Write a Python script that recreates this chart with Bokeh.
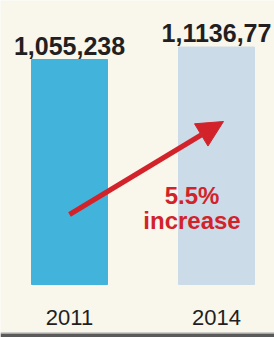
from bokeh.plotting import figure
from bokeh.models import Range1d, Arrow, NormalHead, BoxAnnotation, ColumnDataSource
from bokeh.core.properties import value
from bokeh.embed import file_html
from bokeh.resources import INLINE

# data
years = ["2011", "2014"]
values = [1055238, 1113677]
value_labels = ["1,055,238", "1,1136,77"]
change_lines = ["5.5%", "increase"]

BG = "#F9F6EC"
W, H = 274, 337
px = values[0] / 225.0          # data units per pixel
y0 = -53 * px
x_per_px = 1 / 147.0
x0 = -69 * x_per_px

p = figure(width=W, height=H, output_backend="svg", toolbar_location=None,
           x_range=Range1d(x0, x0 + W * x_per_px), y_range=Range1d(y0, y0 + H * px),
           min_border=0, background_fill_color=BG, border_fill_color=BG)
p.axis.visible = False
p.grid.visible = False
p.outline_line_color = None

xs = list(range(len(years)))
src = ColumnDataSource(dict(x=xs, top=values, color=["#42B3DB", "#CBDBE8"],
                            lab=value_labels, year=years, zero=[0, 0]))
p.vbar(x="x", top="top", bottom=0, width=76 * x_per_px, color="color", source=src)

p.text(x="x", y="top", text="lab", source=src, text_align="center",
       text_baseline="alphabetic", y_offset=-14, text_font=value("Liberation Sans"),
       text_font_style="bold", text_font_size="25px", text_color="#231F20")

p.text(x="x", y="zero", text="year", source=src, text_align="center",
       text_baseline="alphabetic", y_offset=33, text_font=value("Liberation Sans"),
       text_font_size="22px", text_color="#231F20")

# change annotation
cx = (191.5 - 69) * x_per_px
p.text(x=[cx, cx], y=[y0 + (H - 195) * px, y0 + (H - 220) * px], text=change_lines,
       text_align="center", text_baseline="alphabetic",
       text_font=value("Liberation Sans"), text_font_style="bold",
       text_font_size="24px", text_color="#D2232A")

p.add_layout(Arrow(end=NormalHead(size=26, fill_color="#D2232A", line_color="#D2232A"),
                   x_start=xs[0], y_start=y0 + (H - 214) * px,
                   x_end=(223 - 69) * x_per_px, y_end=y0 + (H - 121) * px,
                   line_color="#D2232A", line_width=5))

p.add_layout(BoxAnnotation(bottom=y0 - 10 * px, top=y0 + 4 * px,
                           fill_color="#5A5A5A", fill_alpha=1, line_color=None))
p.add_layout(BoxAnnotation(bottom=y0 + 4 * px, top=y0 + 5 * px,
                           fill_color="#A5A5A5", fill_alpha=1, line_color=None))

open("out.html", "w").write(file_html(p, INLINE))
